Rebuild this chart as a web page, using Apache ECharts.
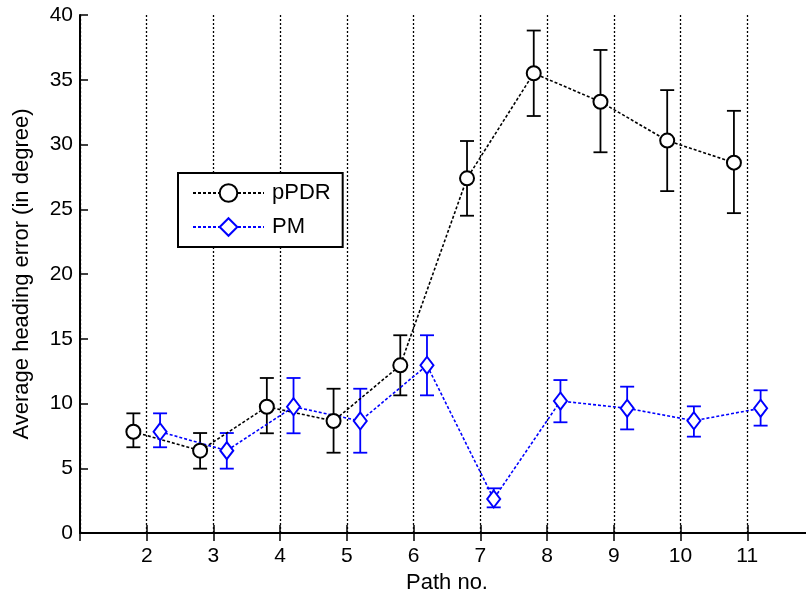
<!DOCTYPE html>
<html>
<head>
<meta charset="utf-8">
<script src="https://cdn.jsdelivr.net/npm/echarts@6/dist/echarts.min.js"></script>
<style>
html,body{margin:0;padding:0;background:#fff;}
#chart{width:806px;height:593px;}
</style>
</head>
<body>
<div id="chart"></div>
<script>
// ---- data ----
const paths = [2, 3, 4, 5, 6, 7, 8, 9, 10, 11];
const pPDRMean  = [7.82, 6.36, 9.75, 8.65, 12.95, 27.39, 35.5, 33.3, 30.3, 28.6];
const pPDRLower = [6.62, 4.97, 7.70, 6.20, 10.63, 24.5, 32.2, 29.4, 26.4, 24.7];
const pPDRUpper = [9.24, 7.72, 11.97, 11.14, 15.27, 30.27, 38.8, 37.3, 34.2, 32.6];
const pmMean  = [7.82, 6.36, 9.75, 8.65, 12.95, 2.63, 10.19, 9.63, 8.67, 9.63];
const pmLower = [6.62, 4.97, 7.70, 6.20, 10.63, 1.98, 8.55, 8.00, 7.44, 8.29];
const pmUpper = [9.24, 7.72, 11.97, 11.14, 15.27, 3.45, 11.81, 11.30, 9.78, 11.02];
const xTickLabels = ['2', '3', '4', '5', '6', '7', '8', '9', '10', '11'];
const yTicks = [0, 5, 10, 15, 20, 25, 30, 35, 40];

const FONT = 'Liberation Sans, Arial, sans-serif';
const BLUE = '#0000ff';
const pPDRShift = -0.2, pmShift = 0.2;

const pPDRLine = paths.map((p, i) => [p + pPDRShift, pPDRMean[i]]);
const pmLine = paths.map((p, i) => [p + pmShift, pmMean[i]]);
const pPDRErr = paths.map((p, i) => [p + pPDRShift, pPDRLower[i], pPDRUpper[i]]);
const pmErr = paths.map((p, i) => [p + pmShift, pmLower[i], pmUpper[i]]);

function errRender(color) {
  return function (params, api) {
    const x = api.value(0), lo = api.value(1), hi = api.value(2);
    const t = api.coord([x, hi]);
    const b = api.coord([x, lo]);
    const hw = 7;
    const st = { stroke: color, lineWidth: 1.8 };
    return {
      type: 'group',
      children: [
        { type: 'line', shape: { x1: t[0], y1: t[1], x2: b[0], y2: b[1] }, style: st },
        { type: 'line', shape: { x1: t[0] - hw, y1: t[1], x2: t[0] + hw, y2: t[1] }, style: st },
        { type: 'line', shape: { x1: b[0] - hw, y1: b[1], x2: b[0] + hw, y2: b[1] }, style: st }
      ]
    };
  };
}

const chart = echarts.init(document.getElementById('chart'), null, { renderer: 'canvas' });
const axisLineStyle = { color: '#000', width: 2 };
const tickStyle = { color: '#000', width: 1.5 };
chart.setOption({
  animation: false,
  backgroundColor: '#fff',
  textStyle: { fontFamily: FONT },
  grid: { left: 80, right: -8, top: 15, bottom: 60, containLabel: false, outerBoundsMode: 'none' },
  legend: {
    data: ['pPDR', 'PM'],
    orient: 'vertical',
    left: 178, top: 173,
    padding: [9, 12, 9, 14],
    itemGap: 12,
    itemWidth: 71, itemHeight: 22,
    borderColor: '#000', borderWidth: 2,
    backgroundColor: '#fff',
    textStyle: { fontFamily: FONT, fontSize: 22, lineHeight: 22, color: '#000', padding: [0, 0, 0, 3] }
  },
  xAxis: [{
    type: 'value', min: 1, max: 12, interval: 1,
    name: 'Path no.', nameLocation: 'middle', nameGap: 35,
    nameTextStyle: { fontFamily: FONT, fontSize: 22, color: '#000' },
    axisLine: { lineStyle: axisLineStyle },
    axisTick: { inside: true, length: 8, lineStyle: tickStyle },
    axisLabel: {
      fontFamily: FONT, fontSize: 21, color: '#000', margin: 13,
      formatter: v => { const i = paths.indexOf(v); return i >= 0 ? xTickLabels[i] : ''; }
    },
    splitLine: { show: true, lineStyle: { color: '#000', width: 1.3, type: [2, 2] } }
  }, {
    type: 'value', min: 1, max: 12, interval: 1, position: 'top',
    axisLine: { lineStyle: axisLineStyle },
    axisTick: { inside: true, length: 8, lineStyle: tickStyle },
    axisLabel: { show: false },
    splitLine: { show: false }
  }],
  yAxis: [{
    type: 'value', min: yTicks[0], max: yTicks[yTicks.length - 1], interval: 5,
    name: 'Average heading error (in degree)', nameLocation: 'middle', nameGap: 47,
    nameTextStyle: { fontFamily: FONT, fontSize: 22, color: '#000' },
    axisLine: { show: true, lineStyle: axisLineStyle },
    axisTick: { show: true, inside: true, length: 8, lineStyle: tickStyle },
    axisLabel: { fontFamily: FONT, fontSize: 21, color: '#000', margin: 7 },
    splitLine: { show: false }
  }, {
    type: 'value', min: yTicks[0], max: yTicks[yTicks.length - 1], interval: 5, position: 'right',
    axisLine: { show: true, lineStyle: axisLineStyle },
    axisTick: { show: true, inside: true, length: 8, lineStyle: tickStyle },
    axisLabel: { show: false },
    splitLine: { show: false }
  }],
  series: [
    {
      name: 'pPDR-err', type: 'custom', renderItem: errRender('#000'),
      data: pPDRErr, encode: { x: 0, y: [1, 2] }, z: 2, silent: true
    },
    {
      name: 'PM-err', type: 'custom', renderItem: errRender(BLUE),
      data: pmErr, encode: { x: 0, y: [1, 2] }, z: 2, silent: true
    },
    {
      name: 'pPDR', type: 'line', data: pPDRLine, z: 3,
      symbol: 'emptyCircle', symbolSize: 14, showAllSymbol: true,
      lineStyle: { color: '#000', width: 1.6, type: [3, 2] },
      itemStyle: { color: '#000', borderColor: '#000', borderWidth: 1.8 }
    },
    {
      name: 'PM', type: 'line', data: pmLine, z: 3,
      symbol: 'emptyDiamond', symbolSize: [13, 17], showAllSymbol: true,
      lineStyle: { color: BLUE, width: 1.6, type: [3, 2] },
      itemStyle: { color: BLUE, borderColor: BLUE, borderWidth: 1.8 }
    }
  ]
});
</script>
</body>
</html>
